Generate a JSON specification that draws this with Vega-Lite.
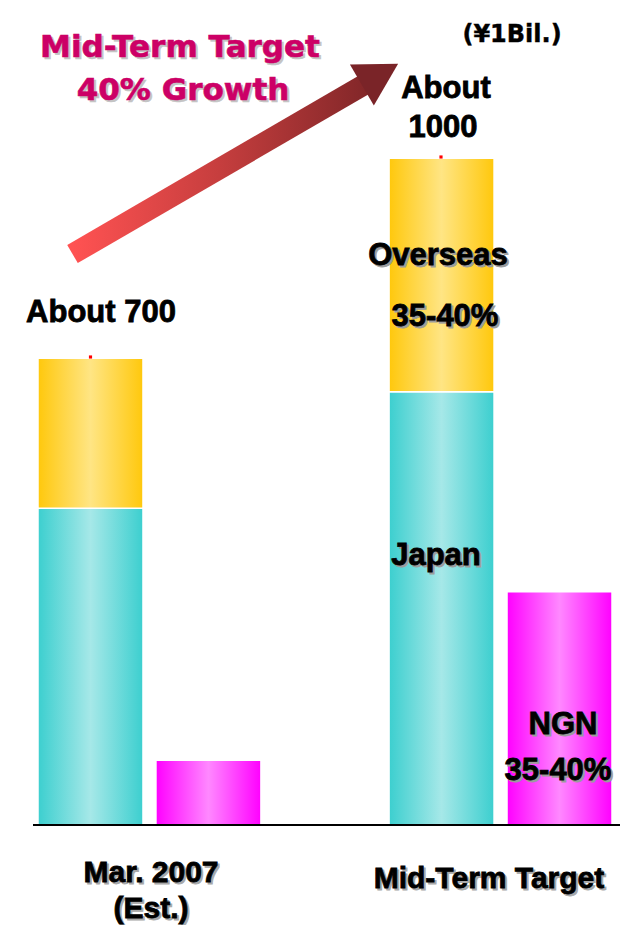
{
  "$schema": "https://vega.github.io/schema/vega-lite/v6.json",
  "width": 620,
  "height": 925,
  "autosize": {"type": "none"},
  "padding": 0,
  "background": "white",
  "config": {"view": {"stroke": null}},
  "datasets": {
    "sales": [
      {"period": "Mar. 2007 (Est.)", "bar": "Sales", "series": "Japan", "value": 475},
      {"period": "Mar. 2007 (Est.)", "bar": "Sales", "series": "Overseas", "value": 225},
      {"period": "Mar. 2007 (Est.)", "bar": "NGN", "series": "NGN", "value": 97},
      {"period": "Mid-Term Target", "bar": "Sales", "series": "Japan", "value": 650},
      {"period": "Mid-Term Target", "bar": "Sales", "series": "Overseas", "value": 350},
      {"period": "Mid-Term Target", "bar": "NGN", "series": "NGN", "value": 350}
    ],
    "titles": [
      {"text": "Mid-Term Target", "x": 180, "y": 1152},
      {"text": "40% Growth", "x": 183, "y": 1087.5}
    ],
    "units": [
      {"text": "(¥1Bil.)", "x": 512, "y": 1174.5}
    ],
    "values": [
      {"text": "About 700", "x": 101, "y": 754.5},
      {"text": "About", "x": 446, "y": 1090.5},
      {"text": "1000", "x": 443, "y": 1032}
    ],
    "serieslabels": [
      {"text": "Overseas", "x": 438, "y": 840},
      {"text": "35-40%", "x": 445, "y": 748.5},
      {"text": "Japan", "x": 436, "y": 390},
      {"text": "NGN", "x": 563, "y": 136.5},
      {"text": "35-40%", "x": 558, "y": 67.5}
    ],
    "categories": [
      {"text": "Mar. 2007", "x": 151, "y": -85.5},
      {"text": "(Est.)", "x": 151, "y": -139.5},
      {"text": "Mid-Term Target", "x": 489, "y": -94.5}
    ],
    "arrow": [{"x": 72.5, "y": 856.5, "x2": 366, "y2": 1112}],
    "arrowhead": [{"x": 380, "y": 1126}],
    "baseline": [{"x": 33, "x2": 620, "y": 0}],
    "markers": [{"x": 90.5, "y": 702}, {"x": 441, "y": 1002}]
  },
  "layer": [
    {
      "data": {"name": "sales"},
      "transform": [
        {"stack": "value", "groupby": ["period", "bar"], "sort": [{"field": "series", "order": "ascending"}], "as": ["v0", "v1"]}
      ],
      "encoding": {
        "x": {"field": "period", "type": "nominal", "sort": null, "axis": null,
              "scale": {"domain": ["Mar. 2007 (Est.)", "Mid-Term Target"], "range": [38, 612], "paddingInner": 0.365, "paddingOuter": 0}},
        "xOffset": {"field": "bar", "type": "nominal",
              "scale": {"domain": ["Sales", "NGN"], "paddingInner": 0.11, "paddingOuter": 0}},
        "y": {"field": "v1", "type": "quantitative", "axis": null,
              "scale": {"domain": [-150, 1237.5], "nice": false, "zero": false}},
        "y2": {"field": "v0"}
      },
      "layer": [
        {
          "transform": [{"filter": "datum.series === 'Japan'"}],
          "mark": {"type": "bar", "stroke": "white", "strokeWidth": 1.5,
            "fill": {"gradient": "linear", "x1": 0, "y1": 0, "x2": 1, "y2": 0,
              "stops": [{"offset": 0, "color": "#3ccfcf"}, {"offset": 0.5, "color": "#a6e8e8"}, {"offset": 1, "color": "#3ccfcf"}]}}
        },
        {
          "transform": [{"filter": "datum.series === 'Overseas'"}],
          "mark": {"type": "bar", "stroke": "white", "strokeWidth": 1.5,
            "fill": {"gradient": "linear", "x1": 0, "y1": 0, "x2": 1, "y2": 0,
              "stops": [{"offset": 0, "color": "#ffc80c"}, {"offset": 0.5, "color": "#ffe584"}, {"offset": 1, "color": "#ffc80c"}]}}
        },
        {
          "transform": [{"filter": "datum.series === 'NGN'"}],
          "mark": {"type": "bar", "stroke": "white", "strokeWidth": 1.5,
            "fill": {"gradient": "linear", "x1": 0, "y1": 0, "x2": 1, "y2": 0,
              "stops": [{"offset": 0, "color": "#ff00ff"}, {"offset": 0.5, "color": "#ff88ff"}, {"offset": 1, "color": "#ff00ff"}]}}
        }
      ]
    },
    {
      "layer": [
        {
          "data": {"name": "baseline"},
          "mark": {"type": "rule", "stroke": "black", "strokeWidth": 2},
          "encoding": {
            "x": {"field": "x", "type": "quantitative", "axis": null, "scale": {"domain": [0, 620], "nice": false, "zero": false}},
            "x2": {"field": "x2"},
            "y": {"field": "y", "type": "quantitative", "axis": null}
          }
        },
        {
          "data": {"name": "arrow"},
          "mark": {"type": "rule", "strokeWidth": 21, "strokeCap": "butt",
            "stroke": {"gradient": "linear", "x1": 0, "y1": 0, "x2": 1, "y2": 0,
              "stops": [{"offset": 0, "color": "#ff5252"}, {"offset": 0.5, "color": "#c63e3e"}, {"offset": 1, "color": "#832729"}]}},
          "encoding": {
            "x": {"field": "x", "type": "quantitative", "axis": null, "scale": {"domain": [0, 620], "nice": false, "zero": false}},
            "x2": {"field": "x2"},
            "y": {"field": "y", "type": "quantitative", "axis": null},
            "y2": {"field": "y2"}
          }
        },
        {
          "data": {"name": "arrowhead"},
          "mark": {"type": "point", "shape": "M-1,0.885L0,-0.885L1,0.885Z", "size": 2250, "angle": 59.7,
                   "filled": true, "fill": "#7a2428", "opacity": 1, "fillOpacity": 1, "strokeWidth": 0},
          "encoding": {
            "x": {"field": "x", "type": "quantitative", "axis": null, "scale": {"domain": [0, 620], "nice": false, "zero": false}},
            "y": {"field": "y", "type": "quantitative", "axis": null}
          }
        },
        {
          "data": {"name": "markers"},
          "mark": {"type": "point", "shape": "square", "size": 10, "filled": true, "fill": "#ff0000", "opacity": 1, "strokeWidth": 0},
          "encoding": {
            "x": {"field": "x", "type": "quantitative", "axis": null, "scale": {"domain": [0, 620], "nice": false, "zero": false}},
            "y": {"field": "y", "type": "quantitative", "axis": null}
          }
        },
        {
          "data": {"name": "titles"},
          "mark": {"type": "text", "font": "DejaVu Sans", "fontWeight": "bold", "fontSize": 31, "align": "center", "baseline": "alphabetic", "fill": "#c4c4c4", "stroke": "#c4c4c4", "strokeWidth": 0.6, "dx": 2, "dy": 2},
          "encoding": {
            "x": {"field": "x", "type": "quantitative", "axis": null, "scale": {"domain": [0, 620], "nice": false, "zero": false}},
            "y": {"field": "y", "type": "quantitative", "axis": null},
            "text": {"field": "text"}
          }
        },
        {
          "data": {"name": "titles"},
          "mark": {"type": "text", "font": "DejaVu Sans", "fontWeight": "bold", "fontSize": 31, "align": "center", "baseline": "alphabetic", "fill": "#cc0066", "stroke": "#cc0066", "strokeWidth": 0.6},
          "encoding": {
            "x": {"field": "x", "type": "quantitative", "axis": null, "scale": {"domain": [0, 620], "nice": false, "zero": false}},
            "y": {"field": "y", "type": "quantitative", "axis": null},
            "text": {"field": "text"}
          }
        },
        {
          "data": {"name": "units"},
          "mark": {"type": "text", "font": "DejaVu Sans", "fontWeight": "bold", "fontSize": 24, "align": "center", "baseline": "alphabetic", "fill": "black", "stroke": "black", "strokeWidth": 0.4},
          "encoding": {
            "x": {"field": "x", "type": "quantitative", "axis": null, "scale": {"domain": [0, 620], "nice": false, "zero": false}},
            "y": {"field": "y", "type": "quantitative", "axis": null},
            "text": {"field": "text"}
          }
        },
        {
          "data": {"name": "values"},
          "mark": {"type": "text", "font": "Liberation Sans", "fontWeight": "bold", "fontSize": 31, "align": "center", "baseline": "alphabetic", "fill": "black", "stroke": "black", "strokeWidth": 0.8},
          "encoding": {
            "x": {"field": "x", "type": "quantitative", "axis": null, "scale": {"domain": [0, 620], "nice": false, "zero": false}},
            "y": {"field": "y", "type": "quantitative", "axis": null},
            "text": {"field": "text"}
          }
        },
        {
          "data": {"name": "serieslabels"},
          "mark": {"type": "text", "font": "Liberation Sans", "fontWeight": "bold", "fontSize": 31, "align": "center", "baseline": "alphabetic", "fill": "#9c9c9c", "stroke": "#9c9c9c", "strokeWidth": 0.8, "dx": 2, "dy": 2},
          "encoding": {
            "x": {"field": "x", "type": "quantitative", "axis": null, "scale": {"domain": [0, 620], "nice": false, "zero": false}},
            "y": {"field": "y", "type": "quantitative", "axis": null},
            "text": {"field": "text"}
          }
        },
        {
          "data": {"name": "serieslabels"},
          "mark": {"type": "text", "font": "Liberation Sans", "fontWeight": "bold", "fontSize": 31, "align": "center", "baseline": "alphabetic", "fill": "black", "stroke": "black", "strokeWidth": 0.8},
          "encoding": {
            "x": {"field": "x", "type": "quantitative", "axis": null, "scale": {"domain": [0, 620], "nice": false, "zero": false}},
            "y": {"field": "y", "type": "quantitative", "axis": null},
            "text": {"field": "text"}
          }
        },
        {
          "data": {"name": "categories"},
          "mark": {"type": "text", "font": "Liberation Sans", "fontWeight": "bold", "fontSize": 30, "align": "center", "baseline": "alphabetic", "fill": "#a8a8a8", "stroke": "#a8a8a8", "strokeWidth": 0.8, "dx": 2, "dy": 2},
          "encoding": {
            "x": {"field": "x", "type": "quantitative", "axis": null, "scale": {"domain": [0, 620], "nice": false, "zero": false}},
            "y": {"field": "y", "type": "quantitative", "axis": null},
            "text": {"field": "text"}
          }
        },
        {
          "data": {"name": "categories"},
          "mark": {"type": "text", "font": "Liberation Sans", "fontWeight": "bold", "fontSize": 30, "align": "center", "baseline": "alphabetic", "fill": "black", "stroke": "black", "strokeWidth": 0.8},
          "encoding": {
            "x": {"field": "x", "type": "quantitative", "axis": null, "scale": {"domain": [0, 620], "nice": false, "zero": false}},
            "y": {"field": "y", "type": "quantitative", "axis": null},
            "text": {"field": "text"}
          }
        }
      ]
    }
  ],
  "resolve": {"scale": {"x": "independent"}}
}
